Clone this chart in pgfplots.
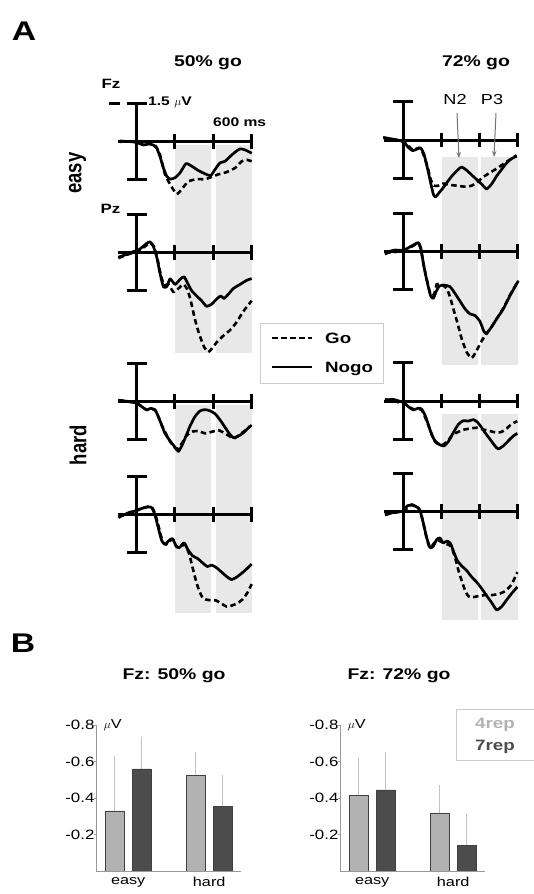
\documentclass[border=0pt]{standalone}
\usepackage{fontspec}
\setmainfont{Liberation Sans}[FakeStretch=1.25]
\newfontfamily\plainsans{Liberation Sans}
\usepackage{graphicx}
\usepackage{pgfplots}
\pgfplotsset{compat=1.18}
\usetikzlibrary{arrows.meta}

\newcommand\fs[1]{\fontsize{#1}{#1}\selectfont}

\definecolor{shade}{gray}{0.91}
\definecolor{lightbar}{gray}{0.70}
\definecolor{darkbar}{gray}{0.30}
\definecolor{edge}{gray}{0.25}
\definecolor{errc}{gray}{0.76}
\definecolor{boxc}{gray}{0.80}
\definecolor{arrowc}{gray}{0.45}
\definecolor{lighttxt}{gray}{0.70}
\definecolor{darktxt}{gray}{0.30}

\pgfplotsset{
  erp/.style={x=0.191pt, y=25.5pt, y dir=reverse,
    xmin=-110, xmax=610, ymin=-1.6, ymax=4.6,
    hide axis, clip=false, anchor=center},
  go/.style={black, line width=2.6pt, dash pattern=on 5.5pt off 3.5pt,
    smooth, tension=0.35, mark=none},
  nogo/.style={black, line width=2.7pt, smooth, tension=0.35, mark=none,
    line join=round},
  barax/.style={x=81pt, y=182.5pt, y dir=reverse,
    xmin=0.61, xmax=2.39, ymin=-0.8, ymax=0,
    anchor=center, clip=false, axis line style={draw=none},
    ytick={-0.8,-0.6,-0.4,-0.2}, yticklabels={-0.8,-0.6,-0.4,-0.2},
    ytick pos=left, tick align=outside, major tick length=3pt,
    ytick style={draw=gray!80, line width=0.6pt},
    xtick={1,2}, xticklabels={easy,hard}, xtick style={draw=none},
    yticklabel style={font=\fs{13.5}, inner sep=0pt, xshift=1pt},
    xticklabel style={font=\fs{13}},
    ybar, bar width=18.5pt},
  errs/.style={error bars/y dir=minus, error bars/y explicit,
    error bars/error bar style={draw=errc, line width=0.9pt},
    error bars/error mark options={draw=errc, line width=0.9pt, mark size=4.5pt}},
}

% zero line, time ticks (200/400/600 ms) and the 1.5 uV scale bar
\newcommand\erpframe{%
  \draw[line width=3pt] (-100,0) -- (600,0);
  \draw[line width=3pt] (200,-0.29) -- (200,0.29);
  \draw[line width=3pt] (400,-0.29) -- (400,0.29);
  \draw[line width=3pt] (600,-0.29) -- (600,0.29);
  \draw[line width=3pt] (0,-1.5) -- (0,1.5);
  \draw[line width=3pt] (-52,-1.5) -- (52,-1.5);
  \draw[line width=3pt] (-52,1.5) -- (52,1.5);
}

\begin{document}
\begin{tikzpicture}[lbl/.style={inner sep=0pt}]
\path[use as bounding box] (0pt,0pt) rectangle (533pt,-894pt);

% ---------------- A: ERPs ----------------
% 50% go, easy, Fz
\begin{axis}[erp, at={(184.45pt,-179.95pt)}]
\addplot[fill=shade, draw=none] coordinates {(203,0.13) (391,0.13) (391,8.30) (203,8.30)} -- cycle;
\addplot[fill=shade, draw=none] coordinates {(414,0.13) (606,0.13) (606,8.30) (414,8.30)} -- cycle;
\erpframe
\draw[line width=3pt] (-145,-1.5) -- (-88,-1.5);
\addplot[go] coordinates {(-87,-0.03) (0,0.01) (35,0.10) (70,0.06) (96,0.13) (122,0.51) (148,1.28) (175,1.67) (209,2.05) (236,1.86) (270,1.56) (314,1.47) (358,1.47) (393,1.38) (428,1.28) (471,1.19) (515,1.03) (550,0.77) (576,0.71) (602,0.77)};
\addplot[nogo] coordinates {(-87,0) (-44,-0.01) (0,0.03) (35,0.13) (61,0.09) (87,0.13) (105,0.26) (122,0.58) (140,1.03) (157,1.35) (175,1.47) (201,1.41) (227,1.22) (258,0.86) (288,0.96) (323,1.13) (358,1.26) (387,1.33) (410,1.09) (436,0.83) (462,0.77) (489,0.58) (515,0.41) (541,0.28) (567,0.32) (602,0.45)};
\end{axis}

% 50% go, easy, Pz
\begin{axis}[erp, at={(184.45pt,-290.55pt)}]
\erpframe
\addplot[go] coordinates {(-96,0.23) (-52,0.10) (9,-0.06) (52,-0.28) (70,-0.37) (91,-0.22) (108,0.23) (126,0.87) (143,1.29) (166,1.26) (192,1.55) (218,1.42) (244,1.26) (265,1.45) (283,1.90) (300,2.47) (318,2.99) (335,3.37) (354,3.73) (375,3.91) (393,3.78) (419,3.53) (454,3.27) (489,3.05) (524,2.73) (558,2.32) (602,1.90)};
\addplot[nogo] coordinates {(-96,0.19) (-52,0.08) (-17,-0.03) (9,-0.09) (35,-0.24) (56,-0.37) (70,-0.41) (87,-0.24) (105,0.19) (122,0.83) (140,1.35) (157,1.35) (175,1.04) (201,1.26) (227,1.06) (248,0.96) (265,1.19) (288,1.51) (314,1.71) (340,1.90) (366,2.12) (393,2.03) (419,1.83) (440,1.71) (457,1.81) (480,1.64) (506,1.42) (541,1.26) (576,1.10) (602,1.03)};
\end{axis}

% 50% go, hard, Fz
\begin{axis}[erp, at={(184.45pt,-439.95pt)}]
\addplot[fill=shade, draw=none] coordinates {(203,0.13) (391,0.13) (391,8.27) (203,8.27)} -- cycle;
\addplot[fill=shade, draw=none] coordinates {(414,0.13) (606,0.13) (606,8.27) (414,8.27)} -- cycle;
\erpframe
\addplot[go] coordinates {(-96,-0.06) (0,0.06) (52,0.32) (96,0.32) (131,0.92) (175,1.56) (209,1.86) (236,1.64) (262,1.32) (293,1.17) (323,1.15) (358,1.24) (393,1.18) (428,1.12) (462,1.24) (489,1.37) (510,1.44) (541,1.28) (576,1.08) (602,0.92)};
\addplot[nogo] coordinates {(-96,-0.06) (-35,0) (0,0.06) (26,0.19) (52,0.32) (73,0.26) (96,0.32) (113,0.58) (131,0.92) (148,1.24) (175,1.54) (201,1.79) (218,1.95) (236,1.73) (258,1.35) (279,0.96) (305,0.58) (332,0.36) (358,0.31) (384,0.36) (410,0.47) (433,0.68) (457,0.94) (482,1.22) (506,1.41) (532,1.35) (558,1.22) (593,0.96)};
\end{axis}

% 50% go, hard, Pz
\begin{axis}[erp, at={(184.45pt,-552.55pt)}]
\erpframe
\addplot[go] coordinates {(-96,0.13) (-35,-0.08) (26,-0.23) (66,-0.31) (84,-0.23) (101,0.09) (119,0.60) (136,1.08) (154,1.18) (175,1.03) (192,1.00) (209,1.28) (230,1.28) (253,1.18) (274,1.54) (288,1.95) (305,2.46) (323,2.91) (346,3.29) (375,3.36) (415,3.38) (445,3.51) (471,3.62) (497,3.58) (527,3.49) (555,3.33) (579,3.08) (602,2.74)};
\addplot[nogo] coordinates {(-96,0.09) (-70,0.03) (-35,-0.08) (0,-0.14) (26,-0.23) (61,-0.29) (79,-0.26) (96,0.03) (113,0.54) (131,1.03) (148,1.18) (169,1.03) (187,0.95) (206,1.24) (223,1.31) (248,1.12) (270,1.41) (293,1.63) (318,1.73) (346,1.91) (370,2.05) (393,1.99) (419,2.10) (445,2.27) (471,2.44) (497,2.56) (524,2.46) (550,2.31) (576,2.14) (602,1.95)};
\end{axis}

% 72% go, easy, Fz
\begin{axis}[erp, at={(451.05pt,-178.25pt)}]
\addplot[fill=shade, draw=none] coordinates {(201,0.65) (391,0.65) (391,8.82) (201,8.82)} -- cycle;
\addplot[fill=shade, draw=none] coordinates {(409,0.65) (601,0.65) (601,8.82) (409,8.82)} -- cycle;
\erpframe
\addplot[go] coordinates {(-105,-0.09) (0,0.06) (49,0.38) (91,0.32) (126,1.03) (143,1.54) (161,1.79) (183,1.79) (209,1.71) (244,1.76) (279,1.79) (323,1.83) (358,1.79) (384,1.67) (419,1.45) (454,1.28) (489,1.12) (524,0.94) (558,0.77) (593,0.60)};
\addplot[nogo] coordinates {(-105,-0.10) (-52,-0.03) (0,0.06) (26,0.29) (49,0.42) (70,0.36) (91,0.32) (108,0.55) (126,1.09) (143,1.67) (157,2.12) (168,2.24) (185,2.09) (206,1.90) (230,1.65) (258,1.38) (283,1.19) (305,1.06) (332,1.19) (358,1.37) (384,1.55) (410,1.73) (436,1.92) (462,1.73) (489,1.41) (515,1.15) (541,0.90) (567,0.73) (593,0.64)};
\end{axis}

% 72% go, easy, Pz
\begin{axis}[erp, at={(451.05pt,-289.95pt)}]
\erpframe
\addplot[go] coordinates {(-96,0.06) (0,-0.04) (66,-0.29) (80,-0.32) (92,-0.09) (108,0.58) (126,1.19) (143,1.68) (161,1.68) (175,1.28) (201,1.28) (227,1.45) (244,1.76) (262,2.24) (283,2.78) (305,3.40) (332,3.94) (358,4.17) (384,3.88) (410,3.50) (436,3.21) (462,2.95) (489,2.63) (524,2.21) (558,1.71) (602,1.13)};
\addplot[nogo] coordinates {(-96,0.09) (-52,-0.06) (0,-0.06) (35,-0.19) (66,-0.32) (80,-0.35) (92,-0.13) (108,0.58) (126,1.22) (143,1.73) (157,1.83) (171,1.58) (188,1.35) (213,1.31) (244,1.37) (270,1.63) (297,1.94) (323,2.24) (349,2.44) (375,2.50) (401,2.73) (422,3.12) (436,3.21) (462,2.95) (489,2.63) (524,2.24) (558,1.73) (602,1.15)};
\end{axis}

% 72% go, hard, Fz
\begin{axis}[erp, at={(451.05pt,-439.25pt)}]
\addplot[fill=shade, draw=none] coordinates {(201,0.52) (391,0.52) (391,8.59) (201,8.59)} -- cycle;
\addplot[fill=shade, draw=none] coordinates {(409,0.52) (601,0.52) (601,8.59) (409,8.59)} -- cycle;
\erpframe
\addplot[go] coordinates {(-96,-0.06) (0,0.09) (52,0.32) (96,0.35) (131,0.95) (166,1.59) (201,1.73) (230,1.59) (253,1.37) (279,1.24) (314,1.13) (349,1.08) (384,1.05) (419,1.12) (454,1.18) (489,1.24) (515,1.21) (541,1.08) (567,0.90) (597,0.79)};
\addplot[nogo] coordinates {(-96,-0.04) (-52,-0.06) (0,0.06) (26,0.22) (52,0.35) (79,0.28) (96,0.32) (113,0.54) (131,0.92) (148,1.31) (166,1.56) (192,1.72) (213,1.76) (236,1.59) (262,1.24) (288,0.92) (314,0.77) (340,0.79) (366,0.73) (387,0.82) (405,0.99) (428,1.24) (454,1.50) (480,1.76) (497,1.88) (524,1.76) (550,1.56) (576,1.37) (597,1.27)};
\end{axis}

% 72% go, hard, Pz
\begin{axis}[erp, at={(451.05pt,-549.95pt)}]
\erpframe
\addplot[go] coordinates {(-96,0.10) (0,-0.03) (44,-0.28) (87,-0.06) (122,1.03) (140,1.41) (175,1.12) (209,1.22) (248,1.35) (270,1.77) (288,2.28) (305,2.69) (323,3.08) (340,3.31) (358,3.36) (393,3.31) (428,3.27) (462,3.27) (497,3.23) (532,3.12) (567,2.85) (597,2.37)};
\addplot[nogo] coordinates {(-96,0.13) (-52,0.03) (0,-0.03) (21,-0.23) (44,-0.26) (70,-0.19) (87,-0.06) (105,0.45) (122,1.00) (140,1.41) (157,1.35) (175,1.09) (192,1.03) (209,1.22) (230,1.15) (248,1.26) (265,1.60) (283,1.92) (305,2.12) (332,2.31) (358,2.56) (384,2.76) (410,3.01) (436,3.29) (462,3.56) (489,3.85) (515,3.72) (541,3.46) (567,3.21) (597,2.95)};
\end{axis}

% labels of panel A
\node[lbl, anchor=base, font=\bfseries\fs{27}] at (24pt,-40pt) {A};
\node[lbl, anchor=base, font=\bfseries\fs{15.5}] at (208pt,-66pt) {50\% go};
\node[lbl, anchor=base, font=\bfseries\fs{15.5}] at (476pt,-66pt) {72\% go};
\node[lbl, anchor=base, font=\bfseries\fs{13.5}] at (111pt,-88pt) {Fz};
\node[lbl, anchor=base, font=\bfseries\fs{13.5}] at (110.5pt,-213pt) {Pz};
\node[lbl, anchor=base west, font=\bfseries\fs{12.5}] at (148pt,-105pt) {1.5 $\mu$V};
\node[lbl, anchor=base west, font=\bfseries\fs{12.5}] at (213pt,-126.5pt) {600 ms};
\node[lbl] at (77.5pt,-173pt) {\scalebox{1.25}[1]{\rotatebox{90}{\plainsans\bfseries\fs{18.5}easy}}};
\node[lbl] at (78pt,-445pt) {\scalebox{1.25}[1]{\rotatebox{90}{\plainsans\bfseries\fs{18.5}hard}}};
\node[lbl, anchor=base, font=\fs{14.5}] at (455pt,-104pt) {N2};
\node[lbl, anchor=base, font=\fs{14.5}] at (492pt,-104pt) {P3};
\draw[arrowc, line width=1pt, -{Stealth[length=6pt,width=4.5pt]}] (457pt,-113pt) -- (459pt,-158pt);
\draw[arrowc, line width=1pt, -{Stealth[length=6pt,width=4.5pt]}] (496pt,-113pt) -- (494pt,-157pt);

% legend of panel A
\draw[boxc, line width=0.8pt] (260.5pt,-323.3pt) rectangle (383.3pt,-383.3pt);
\draw[black, line width=2.6pt, dash pattern=on 5.5pt off 3.5pt] (272pt,-338pt) -- (312pt,-338pt);
\draw[black, line width=2.7pt] (272pt,-367pt) -- (312pt,-367pt);
\node[lbl, anchor=base west, font=\bfseries\fs{15}] at (325pt,-343pt) {Go};
\node[lbl, anchor=base west, font=\bfseries\fs{15}] at (325pt,-372pt) {Nogo};

% ---------------- B: bars ----------------
\node[lbl, anchor=base, font=\bfseries\fs{27}] at (23pt,-652pt) {B};
\node[lbl, anchor=base, font=\bfseries\fs{15.5}] at (174pt,-679pt) {Fz: 50\% go};
\node[lbl, anchor=base, font=\bfseries\fs{15.5}] at (399pt,-679pt) {Fz: 72\% go};

\begin{axis}[barax, at={(168.7pt,-798pt)}]
\addplot[fill=lightbar, draw=edge, line width=0.6pt, bar shift=-13.5pt, errs]
  coordinates {(1,-0.329) +- (0,0.279) (2,-0.526) +- (0,0.104)};
\addplot[fill=darkbar, draw=edge, line width=0.6pt, bar shift=13.5pt, errs]
  coordinates {(1,-0.559) +- (0,0.153) (2,-0.356) +- (0,0.143)};
\draw[gray!80, line width=0.7pt] (0.61,-0.8) -- (0.61,0) -- (2.39,0);
\node[anchor=west, inner sep=0pt, xshift=7pt, font=\fs{13}] at (0.61,-0.8) {$\mu$V};
\end{axis}

\begin{axis}[barax, at={(412.7pt,-798pt)}]
\addplot[fill=lightbar, draw=edge, line width=0.6pt, bar shift=-13.5pt, errs]
  coordinates {(1,-0.416) +- (0,0.181) (2,-0.318) +- (0,0.131)};
\addplot[fill=darkbar, draw=edge, line width=0.6pt, bar shift=13.5pt, errs]
  coordinates {(1,-0.444) +- (0,0.186) (2,-0.142) +- (0,0.148)};
\draw[gray!80, line width=0.7pt] (0.61,-0.8) -- (0.61,0) -- (2.39,0);
\node[anchor=west, inner sep=0pt, xshift=7pt, font=\fs{13}] at (0.61,-0.8) {$\mu$V};
\end{axis}

% legend of panel B
\draw[boxc, line width=0.8pt] (545pt,-709pt) -- (456pt,-709pt) -- (456pt,-760pt) -- (545pt,-760pt);
\node[lbl, font=\bfseries\fs{15}, text=lighttxt] at (495pt,-725pt) {4rep};
\node[lbl, font=\bfseries\fs{15}, text=darktxt] at (495pt,-747pt) {7rep};
\end{tikzpicture}
\end{document}
